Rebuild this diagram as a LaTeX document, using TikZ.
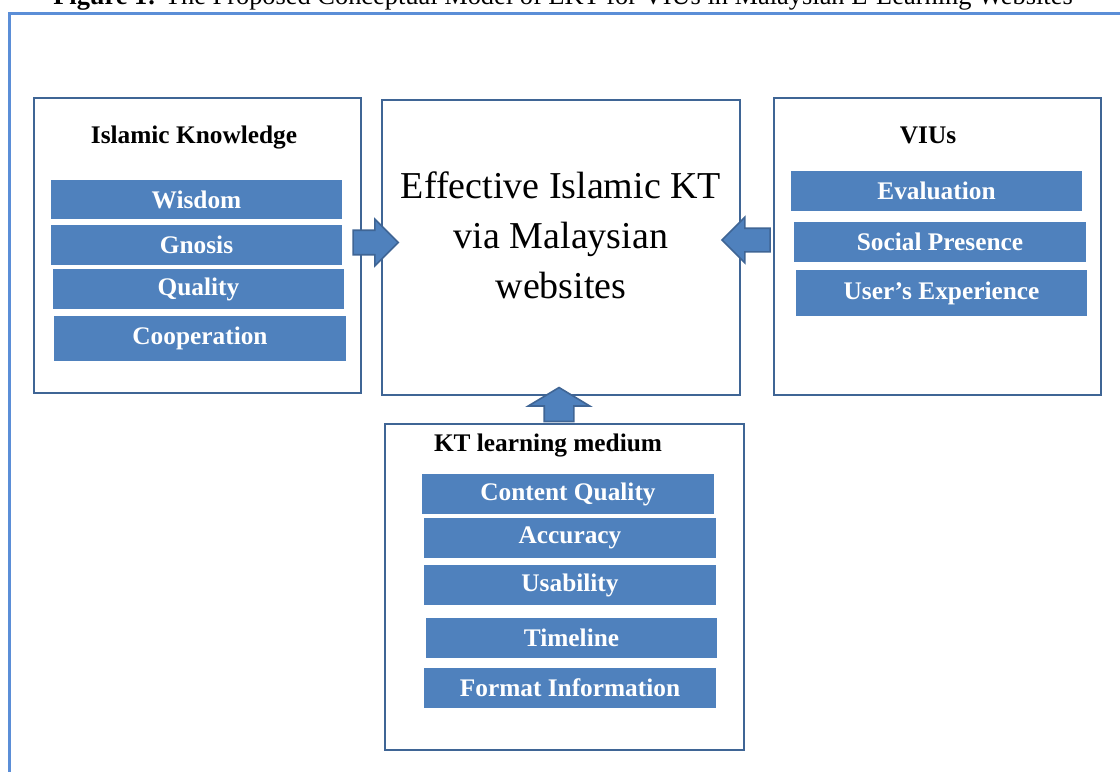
\documentclass[tikz,border=0pt]{standalone}
\usepackage{fontspec}
\setmainfont{Liberation Serif}
\usetikzlibrary{positioning,calc,shapes.arrows}

\definecolor{barblue}{HTML}{4F81BD}
\definecolor{edgeblue}{HTML}{3F6595}
\definecolor{frameblue}{HTML}{5B8ED7}

\begin{document}
\begin{tikzpicture}[x=0.75pt,y=-0.75pt,
    box/.style={draw=edgeblue, line width=2pt, fill=white, inner sep=0pt},
    heading/.style={anchor=base, font=\fontsize{19}{23}\selectfont\bfseries},
    bar/.style={fill=barblue, text=white, inner sep=0pt, minimum width=218.5pt,
        minimum height=30pt, font=\fontsize{19}{23}\selectfont\bfseries},
    blockarrow/.style={single arrow, draw=edgeblue, line width=1.2pt, fill=barblue, inner xsep=0pt}]
    \useasboundingbox (0,0) rectangle (1120,771);

    %caption (cut at the top)
    \node[anchor=base, font=\fontsize{19.8}{23}\selectfont] (cap) at (563,4)
        {\textbf{Figure 1:} The Proposed Conceptual Model of EKT for VIUs in Malaysian E-Learning Websites};

    %frame
    \draw[frameblue, line width=2.25pt] (9.5,1000) |- (1300,13.5);

    %boxes
    \node[box, minimum width=245.25pt, minimum height=221.25pt] (ik) at (197.5,245.5) {};
    \node[box, minimum width=268.5pt, minimum height=221.25pt] (ekt) at (561,247.5) {};
    \node[box, minimum width=245.25pt, minimum height=222.75pt] (vius) at (937.5,246.5) {};
    \node[box, minimum width=269.25pt, minimum height=244.5pt] (ktm) at (564.5,587) {};

    %headings
    \node[heading] (ikT) at (194,143) {Islamic Knowledge};
    \node[heading] (viusT) at (928,143) {VIUs};
    \node[heading] (ktmT) at (548,451) {KT learning medium};
    \node[align=center, font=\fontsize{28.5}{37.5}\selectfont] (ektT) at (561,235)
        {Effective Islamic KT\\via Malaysian\\websites};

    %factors
    \foreach \txt/\x/\y/\h [count=\i] in {Wisdom/196.5/199.5/29.25, Gnosis/196.5/245/30,
        Quality/198.5/289/30, Cooperation/200/338.5/33.75}
        \node[bar, minimum height=\h pt] (ik\i) at (\x,\y) {\txt};
    \foreach \txt/\x/\y/\h [count=\i] in {Evaluation/936.5/191/30, Social Presence/940/242/30,
        User’s Experience/941.5/293/34.5}
        \node[bar, minimum height=\h pt] (vius\i) at (\x,\y) {\txt};
    \foreach \txt/\x/\y [count=\i] in {Content Quality/568/494, Accuracy/570/538,
        Usability/570/585, Timeline/571.5/638, Format Information/570/688}
        \node[bar] (ktm\i) at (\x,\y) {\txt};

    %arrows
    \node[blockarrow, minimum height=33.75pt, minimum width=33.75pt, inner ysep=8.6pt,
        single arrow head extend=8.25pt, xshift=-1.5pt, yshift=3pt]
        (a1) at ($(ik.east)!0.5!(ekt.west)$) {};
    \node[blockarrow, shape border rotate=180, minimum height=36pt, minimum width=33pt,
        inner ysep=8.25pt, single arrow head extend=8.25pt, xshift=-3.75pt, yshift=5.25pt]
        (a2) at ($(vius.west)!0.5!(ekt.east)$) {};
    \node[blockarrow, shape border rotate=90, minimum height=25.5pt, minimum width=45pt,
        inner xsep=10.5pt, inner ysep=0pt, single arrow head extend=12pt, single arrow tip angle=118,
        xshift=-2.8pt, yshift=0.4pt]
        (a3) at ($(ktm.north)!0.5!(ekt.south)$) {};
\end{tikzpicture}
\end{document}
